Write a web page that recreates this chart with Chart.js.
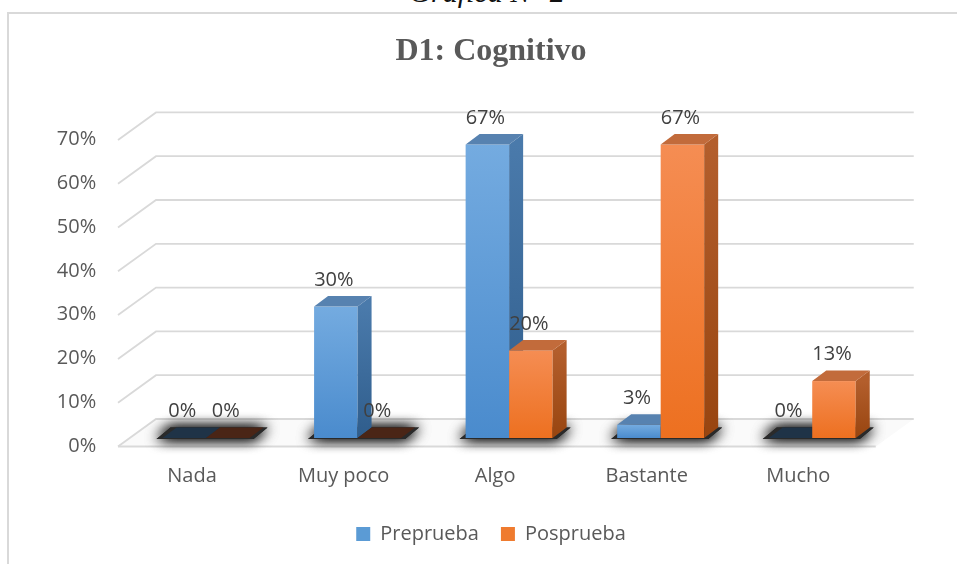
<!DOCTYPE html>
<html>
<head>
<meta charset="utf-8">
<script src="https://cdn.jsdelivr.net/npm/chart.js@4.4.1/dist/chart.umd.min.js"></script>
<style>
  html, body { margin: 0; padding: 0; background: #fff; overflow: hidden; }
  #frame { position: absolute; left: 7px; top: 12px; width: 1100px; height: 700px; border: 2px solid #d9d9d9; }
  #caption { position: absolute; left: 287px; width: 400px; top: -22px; text-align: center;
             font: italic 30px/28px 'Liberation Serif', 'Times New Roman', serif; color: #111; }
  canvas { position: absolute; left: 0; top: 0; }
</style>
</head>
<body>
<div id="frame"></div>
<div id="caption">Gráfica N° 2</div>
<canvas id="cognitivoChart" width="957" height="564"></canvas>
<script>
const categories = ['Nada', 'Muy poco', 'Algo', 'Bastante', 'Mucho'];
const preprueba = [0, 30, 67, 3, 0];
const posprueba = [0, 0, 20, 67, 13];
const yTicks = [0, 10, 20, 30, 40, 50, 60, 70];

// depth of the bars and of the wall/floor (pixels)
const DX = 14, DY = -10.5;
const FRONT = [-12.25, 8.5];
const BACK = [25.75, -19];

const barStyles = [
    { front: ['#74abe0', '#4a8bcd'], side: ['#4a7aab', '#2f5d8c'], top: '#5782b0', flat: '#1f3347' },
    { front: ['#f58d53', '#ed7020'], side: ['#b35e2c', '#984510'], top: '#c26b3b', flat: '#4a2516' }
];

function poly(ctx, pts) {
    ctx.beginPath();
    ctx.moveTo(pts[0][0], pts[0][1]);
    for (let i = 1; i < pts.length; i++) ctx.lineTo(pts[i][0], pts[i][1]);
    ctx.closePath();
}

function drawBar(ctx, bar, st) {
    const left = bar.x - bar.width / 2, right = bar.x + bar.width / 2;
    const top = bar.y, base = bar.base;

    if (base - top < 0.5) {
        ctx.fillStyle = st.flat;
        poly(ctx, [[left, base], [right, base], [right + DX, base + DY], [left + DX, base + DY]]);
        ctx.fill();
        return;
    }

    let g = ctx.createLinearGradient(0, top, 0, base);
    g.addColorStop(0, st.front[0]);
    g.addColorStop(1, st.front[1]);
    ctx.fillStyle = g;
    ctx.fillRect(left, top, right - left, base - top);

    g = ctx.createLinearGradient(0, top, 0, base);
    g.addColorStop(0, st.side[0]);
    g.addColorStop(1, st.side[1]);
    ctx.fillStyle = g;
    poly(ctx, [[right, top], [right + DX, top + DY], [right + DX, base + DY], [right, base]]);
    ctx.fill();

    ctx.fillStyle = st.top;
    poly(ctx, [[left, top], [right, top], [right + DX, top + DY], [left + DX, top + DY]]);
    ctx.fill();
}

const bar3d = {
    id: 'bar3d',
    beforeDatasetsDraw(chart) {
        const ctx = chart.ctx;
        const area = chart.chartArea;
        const yScale = chart.scales.y;
        const p0 = yScale.getPixelForValue(0);

        ctx.save();
        // floor
        ctx.fillStyle = '#fafafa';
        poly(ctx, [
            [area.left + FRONT[0], p0 + FRONT[1]], [area.right + FRONT[0], p0 + FRONT[1]],
            [area.right + BACK[0], p0 + BACK[1]], [area.left + BACK[0], p0 + BACK[1]]
        ]);
        ctx.fill();

        // wall gridlines
        ctx.strokeStyle = '#d9d9d9';
        ctx.lineWidth = 1.8;
        yTicks.forEach(v => {
            const p = yScale.getPixelForValue(v);
            ctx.beginPath();
            ctx.moveTo(area.left + FRONT[0], p + FRONT[1]);
            ctx.lineTo(area.left + BACK[0], p + BACK[1]);
            ctx.lineTo(area.right + BACK[0], p + BACK[1]);
            ctx.stroke();
        });
        ctx.beginPath();
        ctx.moveTo(area.left + FRONT[0], p0 + FRONT[1]);
        ctx.lineTo(area.right + FRONT[0], p0 + FRONT[1]);
        ctx.stroke();

        const metas = chart.data.datasets.map((d, j) => chart.getDatasetMeta(j));

        // soft shadow under every pair of bars
        categories.forEach((c, i) => {
            const bars = metas.map(m => m.data[i].getProps(['x', 'y', 'base', 'width'], true));
            const l = bars[0].x - bars[0].width / 2 - 6;
            const r = bars[bars.length - 1].x + bars[bars.length - 1].width / 2 + 4;
            const b = bars[0].base;
            ctx.save();
            ctx.shadowColor = 'rgba(0, 0, 0, 1)';
            ctx.shadowBlur = 14;
            ctx.fillStyle = '#2a2a2a';
            poly(ctx, [[l, b + 1], [r, b + 1], [r + DX, b + DY], [l + DX, b + DY]]);
            ctx.fill();
            ctx.fill();
            ctx.restore();
        });

        // bars, left to right so that hidden faces get covered
        categories.forEach((c, i) => {
            metas.forEach((m, j) => {
                drawBar(ctx, m.data[i].getProps(['x', 'y', 'base', 'width'], true), barStyles[j]);
            });
        });
        ctx.restore();
        return false;
    },
    afterDraw(chart) {
        const ctx = chart.ctx;
        ctx.save();
        ctx.font = '20px "Open Sans"';
        ctx.fillStyle = '#404040';
        ctx.textAlign = 'center';
        ctx.textBaseline = 'middle';
        chart.data.datasets.forEach((ds, j) => {
            chart.getDatasetMeta(j).data.forEach((bar, i) => {
                const p = bar.getProps(['x', 'y'], true);
                ctx.fillText(`${ds.data[i]}%`, p.x - 2, p.y - 26.5);
            });
        });
        ctx.restore();
    }
};

const ctx = document.getElementById('cognitivoChart').getContext('2d');

const cognitivoChart = new Chart(ctx, {
    type: 'bar',
    data: {
        labels: categories,
        datasets: [
            {
                label: 'Preprueba',
                data: preprueba,
                yAxisID: 'y',
                backgroundColor: '#5b9bd5',
                categoryPercentage: 0.574,
                barPercentage: 1
            },
            {
                label: 'Posprueba',
                data: posprueba,
                yAxisID: 'y',
                backgroundColor: '#ef7b2f',
                categoryPercentage: 0.574,
                barPercentage: 1
            }
        ]
    },
    options: {
        responsive: false,
        animation: false,
        layout: {
            padding: { left: 50, right: 25, top: 0, bottom: 10 }
        },
        plugins: {
            title: {
                display: true,
                text: 'D1: Cognitivo',
                color: '#595959',
                font: { family: 'Liberation Serif', size: 32, weight: 'bold' },
                padding: { top: 32.8, bottom: 60.2 }
            },
            legend: {
                position: 'bottom',
                labels: {
                    color: '#595959',
                    boxWidth: 14,
                    boxHeight: 14,
                    padding: 22,
                    font: { family: 'Open Sans', size: 20 }
                }
            },
            tooltip: { enabled: false }
        },
        scales: {
            x: {
                grid: { display: false, drawTicks: false },
                border: { display: false },
                ticks: {
                    color: '#595959',
                    font: { family: 'Open Sans', size: 20 },
                    padding: 26,
                    labelOffset: -14,
                    maxRotation: 0
                },
                afterFit: function (scale) {
                    scale.height = 64;
                }
            },
            y: {
                min: 0,
                max: 70,
                grid: { display: false, drawTicks: false },
                border: { display: false },
                ticks: {
                    color: '#595959',
                    font: { family: 'Open Sans', size: 20 },
                    padding: 34,
                    labelOffset: 8,
                    callback: value => `${value}%`
                },
                afterBuildTicks: function (scale) {
                    scale.ticks = yTicks.map(v => ({ value: v }));
                },
                afterFit: function (scale) {
                    scale.width = 80.25;
                }
            },
            // empty axis on the right, only reserves room for the 3D wall depth
            depth: {
                type: 'linear',
                position: 'right',
                grid: { display: false, drawTicks: false },
                border: { display: false },
                ticks: { display: false },
                afterFit: function (scale) {
                    scale.width = 44;
                }
            }
        }
    },
    plugins: [bar3d]
});
</script>
</body>
</html>
